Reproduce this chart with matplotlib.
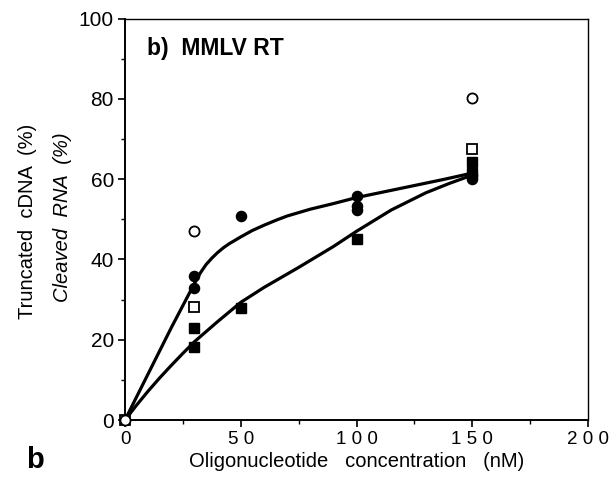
import matplotlib
matplotlib.use("Agg")
import matplotlib.pyplot as plt
from matplotlib.ticker import MultipleLocator

# ---- data ----
filled_circle_x = [30, 30, 50, 100, 100, 100, 150, 150]
filled_circle_y = [35.8, 32.8, 50.9, 55.9, 53.4, 52.2, 60.0, 61.0]
open_circle_x = [0, 30, 150]
open_circle_y = [0, 47.0, 80.2]
open_square_x = [0, 30, 150]
open_square_y = [0, 28.2, 67.5]
filled_square_x = [30, 30, 50, 100, 150, 150]
filled_square_y = [22.8, 18.2, 28.0, 45.0, 64.2, 61.5]

upper_curve_x = [0, 10, 20, 30, 32.5, 35, 37.5, 40, 42.5, 45, 50, 55, 60, 65, 70, 80, 90, 100, 112.5, 125, 137.5, 150]
upper_curve_y = [0, 11.5, 23, 34.0, 36.6, 38.7, 40.3, 41.7, 42.9, 43.9, 45.6, 47.2, 48.5, 49.7, 50.8, 52.5, 53.9, 55.4, 56.9, 58.4, 59.9, 61.5]
lower_curve_x = [0, 5, 10, 15, 20, 25, 30, 40, 50, 60, 75, 90, 100, 115, 130, 140, 150]
lower_curve_y = [0, 3.7, 7.2, 10.5, 13.6, 16.6, 19.5, 24.5, 29.3, 33.0, 38.0, 43.2, 47.0, 52.3, 56.6, 58.9, 61.0]

x_ticks = [0, 50, 100, 150, 200]
x_tick_labels = ["0", "5 0", "1 0 0", "1 5 0", "2 0 0"]
y_ticks = [0, 20, 40, 60, 80, 100]
y_tick_labels = ["0", "20", "40", "60", "80", "100"]

plt.rcParams['font.family'] = ['Liberation Sans', 'DejaVu Sans']

fig = plt.figure(figsize=(6.13, 4.8), dpi=100)
ax = fig.add_axes([125/613, 1-420/480, (588-125)/613, (420-18.5)/480])

ax.plot(upper_curve_x, upper_curve_y, color='black', lw=2.3, solid_capstyle='round',
        solid_joinstyle='round', zorder=2)
ax.plot(lower_curve_x, lower_curve_y, color='black', lw=2.3, solid_capstyle='round',
        solid_joinstyle='round', zorder=2)

ms = 7.3
ax.plot(filled_circle_x, filled_circle_y, 'o', color='black', ms=ms, zorder=3, clip_on=False)
ax.plot(filled_square_x, filled_square_y, 's', color='black', ms=ms, zorder=3, clip_on=False)
ax.plot(open_square_x, open_square_y, 's', mfc='white', mec='black', mew=1.3, ms=ms, zorder=4, clip_on=False)
ax.plot(open_circle_x, open_circle_y, 'o', mfc='white', mec='black', mew=1.3, ms=ms, zorder=5, clip_on=False)

ax.set_xlim(0, 200)
ax.set_ylim(0, 100)
ax.set_xticks(x_ticks)
ax.set_xticklabels(x_tick_labels, fontsize=13.5)
ax.set_yticks(y_ticks)
ax.set_yticklabels(y_tick_labels, fontsize=15)
ax.xaxis.set_minor_locator(MultipleLocator(25))
ax.yaxis.set_minor_locator(MultipleLocator(10))
ax.tick_params(axis='both', which='major', direction='out', length=5, width=1.2, pad=3)
ax.tick_params(axis='both', which='minor', direction='out', length=3, width=1.0)

for s in ['left', 'bottom']:
    ax.spines[s].set_linewidth(1.4)
for s in ['top', 'right']:
    ax.spines[s].set_linewidth(1.0)

ax.text(0.048, 0.955, "b)  MMLV RT", transform=ax.transAxes, fontsize=16.5,
        fontweight='bold', ha='left', va='top')

ax.set_xlabel("Oligonucleotide   concentration   (nM)", fontsize=14.5, labelpad=3)
fig.text(27.5/613, 1-221/480, "Truncated  cDNA  (%)", rotation=90, fontsize=14.5,
         ha='center', va='center')
fig.text(63/613, 1-217/480, "Cleaved  RNA  (%)", rotation=90, fontsize=14.5,
         style='italic', ha='center', va='center')
fig.text(35/613, 1-460/480, "b", fontsize=21, fontweight='bold', ha='center', va='center')

fig.savefig("out.png", dpi=100)
